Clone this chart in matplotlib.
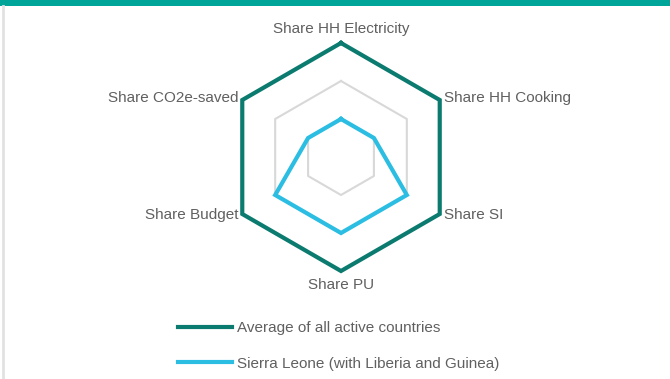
import numpy as np
import matplotlib
matplotlib.use("Agg")
import matplotlib.pyplot as plt
from matplotlib.patches import Rectangle
from matplotlib.lines import Line2D

plt.rcParams['font.family'] = ['Liberation Sans', 'DejaVu Sans']

categories = ["Share HH Electricity", "Share HH Cooking", "Share SI",
              "Share PU", "Share Budget", "Share CO2e-saved"]
average_all = [1.5, 1.5, 1.5, 1.5, 1.5, 1.5]
sierra_leone = [0.5, 0.5, 1.0, 1.0, 1.0, 0.5]
ring_levels = [0.5, 1.0, 1.5]
series_names = ["Average of all active countries",
                "Sierra Leone (with Liberia and Guinea)"]

TEAL = "#0b7a6f"
CYAN = "#2bbde2"
GRID = "#d8d8d8"
TEXT = "#606060"
FS = 11

W, H = 670, 379
fig = plt.figure(figsize=(W / 100, H / 100), dpi=100)
fig.patch.set_facecolor("white")

# header band and left frame edge
fig.patches.append(Rectangle((0, 1 - 6 / H), 1, 6 / H, transform=fig.transFigure,
                             facecolor="#00a59a", edgecolor="none"))
fig.lines.append(Line2D([3 / W, 3 / W], [0, 1 - 6 / H], transform=fig.transFigure,
                        color="#e2e2e2", lw=2))

cx, cy, R = 341, 157, 114
ax = fig.add_axes([(cx - R) / W, (H - cy - R) / H, 2 * R / W, 2 * R / H],
                  projection="polar")
ax.set_theta_zero_location("N")
ax.set_theta_direction(-1)
ax.set_ylim(0, ring_levels[-1])
ax.grid(False)
ax.spines["polar"].set_visible(False)
ax.set_xticks([])
ax.set_yticks([])
ax.patch.set_alpha(0)

n = len(categories)
angles = np.linspace(0, 2 * np.pi, n, endpoint=False)
closed = np.append(angles, angles[0])

for lvl in ring_levels:
    ax.plot(closed, [lvl] * (n + 1), color=GRID, lw=1.5, clip_on=False, zorder=1)

ax.plot(closed, average_all + average_all[:1], color=TEAL, lw=3,
        clip_on=False, zorder=3, solid_joinstyle="miter")
ax.plot(closed, sierra_leone + sierra_leone[:1], color=CYAN, lw=3,
        clip_on=False, zorder=4, solid_joinstyle="miter")

offsets = [(0, 14, "center"), (4, 2, "left"), (4, -1, "left"),
           (0, -14, "center"), (-4, -1, "right"), (-4, 2, "right")]
for ang, lab, (dx, dy, ha) in zip(angles, categories, offsets):
    ax.annotate(lab, xy=(ang, ring_levels[-1]), xytext=(dx, dy),
                textcoords="offset pixels", ha=ha, va="center",
                fontsize=FS, color=TEXT, annotation_clip=False)

handles = [Line2D([], [], color=TEAL, lw=3), Line2D([], [], color=CYAN, lw=3)]
fs_px = FS * 100 / 72
fig.legend(handles, series_names, loc="upper left",
           bbox_to_anchor=(178 / W, 1 - 321 / H), frameon=False,
           fontsize=FS, labelcolor=TEXT, handlelength=54 / fs_px,
           handletextpad=5 / fs_px, borderpad=0, borderaxespad=0,
           labelspacing=1.42)

fig.savefig("out.png", dpi=100)
